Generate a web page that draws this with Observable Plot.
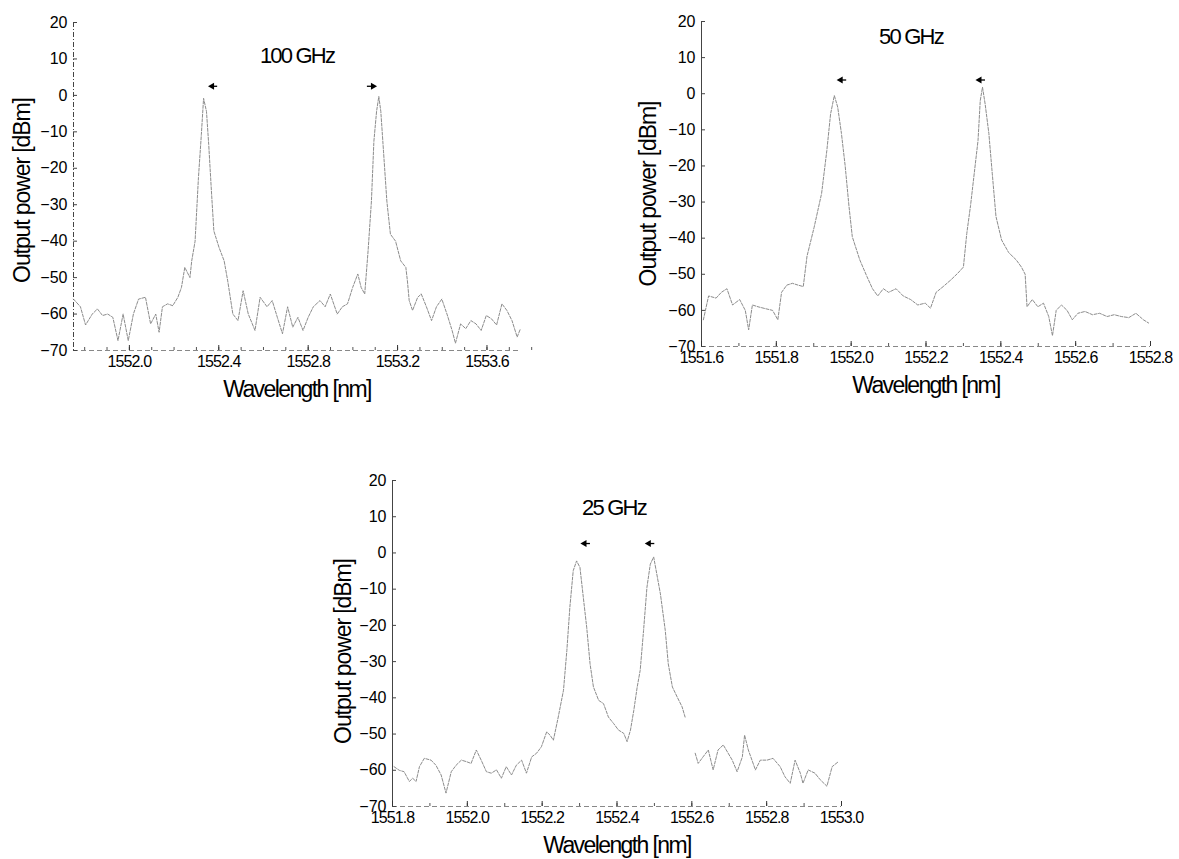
<!DOCTYPE html>
<html><head><meta charset="utf-8">
<script src="https://cdn.jsdelivr.net/npm/d3@7"></script>
<script src="https://cdn.jsdelivr.net/npm/@observablehq/plot@0.6"></script>
<style>
body{margin:0;background:#fff;}
#fig{position:relative;width:1179px;height:859px;overflow:hidden;background:#fff;}
.panel{position:absolute;}
</style></head><body><div id="fig"></div>
<script>
// ---------- data ----------
const yTicks = [-70,-60,-50,-40,-30,-20,-10,0,10,20];

// 100 GHz
const wl100 = [1551.750,1551.781,1551.804,1551.834,1551.857,1551.880,1551.903,1551.926,1551.949,1551.972,1551.995,1552.018,1552.041,1552.072,1552.095,1552.118,1552.133,1552.148,1552.171,1552.194,1552.217,1552.233,1552.248,1552.271,1552.279,1552.294,1552.309,1552.322,1552.332,1552.345,1552.355,1552.368,1552.378,1552.401,1552.424,1552.440,1552.463,1552.486,1552.509,1552.532,1552.562,1552.585,1552.616,1552.639,1552.662,1552.685,1552.708,1552.731,1552.754,1552.777,1552.800,1552.823,1552.853,1552.876,1552.899,1552.930,1552.953,1552.976,1552.999,1553.022,1553.037,1553.053,1553.068,1553.083,1553.094,1553.106,1553.116,1553.125,1553.137,1553.152,1553.168,1553.191,1553.214,1553.237,1553.244,1553.252,1553.267,1553.290,1553.306,1553.329,1553.352,1553.374,1553.398,1553.421,1553.444,1553.459,1553.482,1553.505,1553.528,1553.551,1553.574,1553.597,1553.620,1553.643,1553.667,1553.689,1553.712,1553.735,1553.750];
const p100 = [-55.9,-58,-63,-60,-58.6,-60.4,-60,-60.9,-67.3,-60,-67.3,-60,-55.9,-55.4,-62.7,-60,-65,-58,-57.2,-57.7,-55.4,-52.7,-47.2,-50,-45.4,-40,-22.6,-10.8,-0.8,-4.4,-13.5,-27.2,-37.2,-41.7,-45.4,-50.9,-60,-61.8,-53.6,-60,-64.5,-55.4,-58,-56.3,-60.9,-65.4,-58,-63.6,-60.9,-64.5,-60.9,-58,-56.3,-58,-54.5,-60,-58,-57.2,-52.7,-49,-52.7,-54.5,-42.7,-29,-12.6,-4.4,-0.3,-4.4,-15.3,-29,-38.1,-40,-45.4,-47.2,-50.9,-56.3,-59,-55.4,-54.5,-58,-61.8,-58,-55.9,-60,-64.5,-68,-62.7,-64,-61.8,-62.7,-64.5,-60.4,-61.3,-63,-57.2,-59,-61.8,-66.3,-64];
const ticks100 = [1552.0,1552.4,1552.8,1553.2,1553.6];
const arrowX100 = [1552.37,1553.09];
const arrowY100 = [2.5,2.5];
const arrowDir100 = [-1,1];

// 50 GHz
const wl50 = [1551.605,1551.619,1551.639,1551.653,1551.668,1551.683,1551.702,1551.717,1551.726,1551.736,1551.751,1551.770,1551.790,1551.804,1551.814,1551.828,1551.843,1551.858,1551.872,1551.882,1551.901,1551.921,1551.935,1551.945,1551.955,1551.964,1551.974,1551.984,1551.994,1552.003,1552.023,1552.042,1552.057,1552.071,1552.086,1552.100,1552.120,1552.139,1552.159,1552.178,1552.198,1552.212,1552.227,1552.246,1552.266,1552.285,1552.300,1552.309,1552.319,1552.329,1552.339,1552.345,1552.351,1552.358,1552.368,1552.377,1552.387,1552.402,1552.421,1552.441,1552.455,1552.465,1552.470,1552.484,1552.499,1552.514,1552.528,1552.538,1552.548,1552.562,1552.577,1552.591,1552.606,1552.625,1552.645,1552.664,1552.684,1552.703,1552.722,1552.742,1552.761,1552.781,1552.795];
const p50 = [-62.6,-56,-56.6,-55,-54,-58.5,-57,-60,-65.4,-58.5,-59,-59.5,-60,-62.6,-55,-53,-52.5,-53,-53.4,-45,-37,-27.6,-15.7,-5.6,-0.5,-3.7,-11,-20,-31,-39.6,-46,-50.6,-54,-56,-54,-55,-54,-56,-57,-58.5,-58,-59.4,-55,-53.4,-51.6,-49.7,-48,-38.7,-31,-22,-13,-1.9,1.8,-2.8,-11,-22,-34,-40.5,-44,-46,-48,-50,-59,-57,-59,-58,-61.7,-67,-60,-58.5,-60,-62.6,-60.8,-60.3,-61.2,-60.8,-61.7,-61.2,-61.7,-62,-60.8,-62.6,-63.5];
const ticks50 = [1551.6,1551.8,1552.0,1552.2,1552.4,1552.6,1552.8];
const arrowX50 = [1551.972,1552.343];
const arrowY50 = [3.8,3.8];
const arrowDir50 = [-1,-1];

// 25 GHz
const wl25 = [1551.804,1551.818,1551.831,1551.845,1551.854,1551.863,1551.872,1551.885,1551.903,1551.916,1551.930,1551.943,1551.957,1551.970,1551.984,1551.997,1552.010,1552.024,1552.037,1552.051,1552.064,1552.078,1552.091,1552.104,1552.118,1552.131,1552.145,1552.158,1552.172,1552.185,1552.198,1552.212,1552.221,1552.230,1552.243,1552.257,1552.266,1552.274,1552.283,1552.292,1552.301,1552.310,1552.319,1552.328,1552.337,1552.351,1552.364,1552.377,1552.391,1552.404,1552.418,1552.427,1552.436,1552.445,1552.454,1552.462,1552.471,1552.480,1552.489,1552.498,1552.516,1552.529,1552.537,1552.548,1552.561,1552.574,1552.582,1552.595,1552.609,1552.617,1552.630,1552.644,1552.657,1552.670,1552.684,1552.708,1552.721,1552.735,1552.741,1552.751,1552.770,1552.783,1552.801,1552.817,1552.836,1552.849,1552.863,1552.876,1552.890,1552.897,1552.911,1552.929,1552.943,1552.961,1552.975,1552.992];
const p25 = [-59,-60,-60.4,-63.1,-62.2,-63.1,-59,-56.7,-57.2,-58.6,-61.3,-66.3,-60.4,-58.6,-57.2,-57.6,-58.1,-54.4,-57.2,-60.4,-60.8,-59.9,-62.2,-59,-61.3,-58.6,-57.2,-60.8,-56.3,-55.3,-53.5,-49.4,-50.3,-51.7,-45.3,-37.9,-26.9,-15,-4.9,-2.2,-4,-12.3,-20.5,-30.6,-37,-40.7,-41.6,-45.3,-47.1,-48.9,-49.8,-52.1,-48.9,-43.4,-37,-32.4,-21.4,-9.5,-3.1,-1.1,-11.3,-21.4,-30.6,-37,-39.8,-42.5,-45.3,null,-55.3,-58.1,-56.3,-54.4,-59.9,-54.4,-53,-57.2,-60.4,-56.3,-50.3,-54.4,-59.9,-57.2,-57.2,-56.7,-59,-61.8,-63.6,-57.2,-60.8,-63.6,-59.9,-60.8,-62.6,-64.4,-59,-57.6];
const ticks25 = [1551.8,1552.0,1552.2,1552.4,1552.6,1552.8,1553.0];
const arrowX25 = [1552.313,1552.485];
const arrowY25 = [2.6,2.6];
const arrowDir25 = [-1,-1];

// ---------- layout / style ----------
const panels = [
  {title:"100 GHz", wl:wl100, p:p100, ticks:ticks100, domain:[1551.75,1553.75], ax:arrowX100, ay:arrowY100, ad:arrowDir100,
   left:0, top:0, width:545, height:410, ml:73, mr:25, mt:22, mb:60, titleDx:0, titleDy:33, ylabX:22, ylabDy:4, tail:0.025, leftDash:"5,2,1,2"},
  {title:"50 GHz", wl:wl50, p:p50, ticks:ticks50, domain:[1551.6,1552.8], ax:arrowX50, ay:arrowY50, ad:arrowDir50,
   left:610, top:0, width:569, height:410, ml:91, mr:29, mt:21, mb:64, titleDx:-15, titleDy:15, ylabX:648, ylabDy:10, tail:0.016, leftDash:null},
  {title:"25 GHz", wl:wl25, p:p25, ticks:ticks25, domain:[1551.8,1553.0], ax:arrowX25, ay:arrowY25, ad:arrowDir25,
   left:300, top:440, width:580, height:419, ml:92, mr:39, mt:40, mb:53, titleDx:-3, titleDy:27, ylabX:343, ylabDy:8, tail:0.016, leftDash:null}
];

const fig = document.getElementById("fig");
const fmt = d3.format(".1f");

for (const c of panels) {
  const plotW = c.width - c.ml - c.mr;
  const plotH = c.height - c.mt - c.mb;
  const idx = d3.range(c.wl.length);
  const aIdx = d3.range(c.ax.length);
  const minor = d3.range(Math.round(c.domain[0]*10), Math.round(c.domain[1]*10)+1).map(d => d/10);
  const svg = Plot.plot({
    width: c.width, height: c.height,
    marginLeft: c.ml, marginRight: c.mr, marginTop: c.mt, marginBottom: c.mb,
    style: {fontFamily: "'Liberation Sans', Arial, sans-serif", background: "transparent", color: "#000", overflow: "visible"},
    x: {domain: c.domain, label: null},
    y: {domain: [-70, 20], label: null},
    marks: [
      Plot.ruleX([c.domain[0]], {stroke: "#444", strokeWidth: 1, strokeDasharray: c.leftDash}),
      Plot.ruleY([-70], {stroke: "#888", strokeWidth: 1, strokeDasharray: "5,3"}),
      Plot.ruleY(yTicks, {y: d => d, insetRight: plotW - 4, stroke: "#444"}),
      Plot.ruleX(minor, {x: d => d, insetTop: plotH - 3, stroke: "#555"}),
      Plot.ruleX(c.ticks, {x: d => d, insetTop: plotH - 5, stroke: "#333"}),
      Plot.axisY({ticks: yTicks, tickSize: 0, tickPadding: 6, fontSize: 16, label: null}),
      Plot.axisX({ticks: c.ticks, tickSize: 0, tickPadding: 5, fontSize: 16, tickFormat: fmt, label: null}),
      Plot.line(idx, {x: i => c.wl[i], y: i => c.p[i], stroke: "#8c8c8c", strokeWidth: 1, strokeDasharray: "3,1.5"}),
      Plot.ruleY(aIdx, {y: i => c.ay[i], x1: i => c.ax[i], x2: i => c.ax[i] - c.ad[i]*c.tail, stroke: "#000", strokeWidth: 1.3}),
      Plot.dot(aIdx, {x: i => c.ax[i], y: i => c.ay[i], symbol: "triangle", r: 2.6, fill: "#000", stroke: null, rotate: i => c.ad[i] < 0 ? -90 : 90}),
      Plot.text([c.title], {frameAnchor: "top", dx: c.titleDx, dy: c.titleDy, lineAnchor: "middle", fontSize: 22, fill: "#000"}),
      Plot.text(["Wavelength [nm]"], {frameAnchor: "bottom", dy: 39, lineAnchor: "middle", fontSize: 23, fill: "#000"}),
      Plot.text(["Output power [dBm]"], {frameAnchor: "left", dx: -(c.ml - (c.ylabX - c.left)), dy: c.ylabDy, rotate: -90, textAnchor: "middle", lineAnchor: "middle", fontSize: 23, fill: "#000"})
    ]
  });
  svg.classList.add("panel");
  svg.style.left = c.left + "px";
  svg.style.top = c.top + "px";
  // condensed look of the scanned lettering
  d3.select(svg).selectAll("text").each(function() {
    const t = this.textContent;
    if (t === "Wavelength [nm]") d3.select(this).attr("letter-spacing", "-1.6px");
    else if (t === "Output power [dBm]") d3.select(this).attr("letter-spacing", "-1.1px");
    else if (t.endsWith("GHz")) d3.select(this).attr("letter-spacing", "-1.8px");
    else if (t.includes(".")) d3.select(this).attr("letter-spacing", "-0.9px");
  });
  fig.appendChild(svg);
}
</script>
</body></html>
